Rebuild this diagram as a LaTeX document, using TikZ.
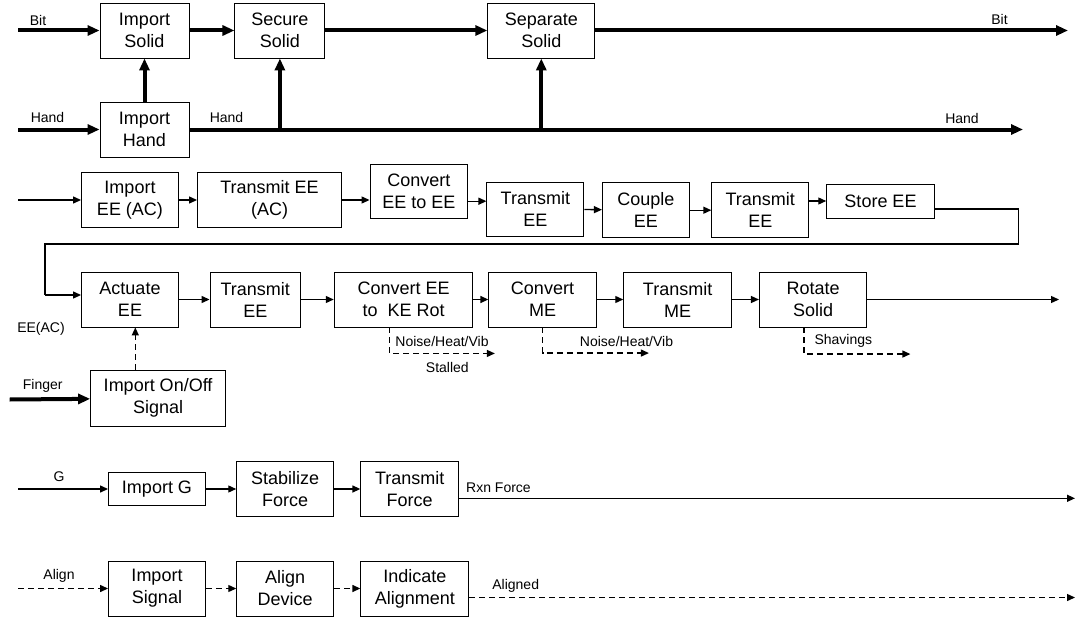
\documentclass[tikz,border=0pt]{standalone}
\usepackage{fontspec}
\setmainfont{Liberation Sans}
\usetikzlibrary{arrows.meta,positioning}

\begin{document}
\begin{tikzpicture}[x=1pt, y=-1pt,
  box/.style={draw, line width=0.9pt, align=center, font=\fontsize{18}{22}\selectfont, inner sep=2pt, minimum height=55pt},
  flow/.style={line width=1.3pt, -{Triangle[length=8pt,width=7pt]}},
  heavy/.style={line width=4pt, -{Triangle[length=12pt,width=10pt]}},
  sig/.style={flow, dash pattern=on 6pt off 4pt},
  lbl/.style={font=\fontsize{14}{16}\selectfont, inner sep=0pt}]
  \useasboundingbox (0,0) rectangle (1076,618);

  % bit and hand
  \node[box, minimum width=89pt] (isol) at (144.5,30.5) {Import\\Solid};
  \node[box, minimum width=90pt, right=45pt of isol] (ssol) {Secure\\Solid};
  \node[box, minimum width=107pt, right=162pt of ssol] (sep) {Separate\\Solid};
  \node[box, minimum width=89pt] (ihand) at (144.5,129.5) {Import\\Hand};
  \coordinate (bitin) at (18,30.5);
  \coordinate (bitout) at (1068,30.5);
  \coordinate (handin) at (18,129.5);
  \coordinate (handout) at (1023,129.5);

  \draw[heavy] (bitin) -- (isol);
  \draw[heavy] (isol) -- (ssol);
  \draw[heavy] (ssol) -- (sep);
  \draw[heavy] (sep) -- (bitout);
  \draw[heavy] (handin) -- (ihand);
  \draw[heavy] (ihand) -- (isol);
  \draw[heavy] (ihand) -- (handout);
  \draw[heavy] (ssol.south |- ihand) -- (ssol);
  \draw[heavy] (sep.south |- ihand) -- (sep);

  \node[lbl] (lbit1) at (38,20) {Bit};
  \node[lbl] (lbit2) at (999.5,19.5) {Bit};
  \node[lbl] (lhand1) at (47.5,117.5) {Hand};
  \node[lbl] (lhand2) at (226.5,117.5) {Hand};
  \node[lbl] (lhand3) at (962,118) {Hand};

  % electrical energy
  \node[box, minimum width=97pt] (iee) at (130,200) {Import\\EE (AC)};
  \node[box, minimum width=144pt] (taee) at (269.5,200) {Transmit EE\\(AC)};
  \node[box, minimum width=97.6pt, minimum height=54pt] (cee) at (418.8,191.2) {Convert\\EE to EE};
  \node[box, minimum width=97pt, minimum height=54pt] (tee1) at (535.4,209) {Transmit\\EE};
  \node[box, minimum width=87pt] (cpl) at (645.9,210.2) {Couple\\EE};
  \node[box, minimum width=97pt] (tee2) at (760.3,210.2) {Transmit\\EE};
  \node[box, minimum width=107.6pt, minimum height=34pt] (stee) at (880.5,201) {Store EE};
  \coordinate (eein) at (18,200);

  \draw[flow] (eein) -- (iee);
  \draw[flow] (iee) -- (taee);
  \draw[flow] (taee) -- (taee -| cee.west);
  \draw[flow] ([yshift=-10pt]cee.east) -- ([yshift=-10pt]cee.east -| tee1.west);
  \draw[flow] (tee1) -- (cpl);
  \draw[flow] (cpl) -- (tee2);
  \draw[flow] (tee2.east |- stee) -- (stee);

  \node[box, minimum width=97pt] (act) at (130,299.5) {Actuate\\EE};
  \node[box, minimum width=90.6pt, right=30.6pt of act] (tee3) {Transmit\\EE};
  \node[box, minimum width=138.7pt, right=32.7pt of tee3] (cke) {Convert EE\\to~\ KE Rot};
  \node[box, minimum width=107.4pt, right=15pt of cke] (cme) {Convert\\ME};
  \node[box, minimum width=107.8pt, right=26.6pt of cme] (tme) {Transmit\\ME};
  \node[box, minimum width=107.4pt, right=27pt of tme] (rot) {Rotate\\Solid};
  \node[box, minimum width=135pt, minimum height=56.7pt] (onoff) at (158.1,398.3) {Import On/Off\\Signal};
  \coordinate (rotout) at (1059,299.5);
  \coordinate (fingerin) at (9.6,399.5);

  \draw[line width=1.3pt] ([yshift=-8pt]stee.east) -- ++(83.7,0) -- ++(0,35) -| ([xshift=-36pt,yshift=4.5pt]act.west);
  \draw[flow] ([xshift=-36.5pt,yshift=4.5pt]act.west) -- ([yshift=4.5pt]act.west);
  \draw[flow] (act) -- (tee3);
  \draw[flow] (tee3) -- (cke);
  \draw[flow] (cke) -- (cme);
  \draw[flow] (cme) -- (tme);
  \draw[flow] (tme) -- (rot);
  \draw[flow] (rot) -- (rotout);
  \draw[heavy] (fingerin) -- (onoff);
  \draw[sig] ([xshift=5.3pt]act.south |- onoff.north) -- ([xshift=5.3pt]act.south);

  % losses
  \draw[sig] ([xshift=-14.3pt]cke.south) -- ++(0,26) -- ++(105.6,0)
    node[lbl, pos=0.5, above=6pt] (lnoise1) {Noise/Heat/Vib}
    node[lbl, pos=0.55, below=8pt] (lstall) {Stalled};
  \draw[sig] (cme.south) -- ++(0,25.6) -- ++(106.4,0)
    node[lbl, pos=0.79, above=6pt] (lnoise2) {Noise/Heat/Vib};
  \draw[sig] ([xshift=-9.1pt]rot.south) -- ++(0,26.6) -- ++(106.4,0)
    node[lbl, pos=0.37, above=6pt] (lshav) {Shavings};

  \node[lbl] (leeac) at (41,329) {EE(AC)};
  \node[lbl] (lfinger) at (42.7,386) {Finger};

  % gravity
  \node[box, minimum width=97pt, minimum height=33.3pt] (ig) at (157,489) {Import G};
  \node[box, minimum width=97pt, right=30.3pt of ig] (stab) {Stabilize\\Force};
  \node[box, minimum width=97.8pt, right=26.2pt of stab] (tf) {Transmit\\Force};
  \coordinate (gin) at (18,489);
  \coordinate (rxnout) at (1075,498.3);

  \draw[flow] (gin) -- (ig);
  \draw[flow] (ig) -- (stab);
  \draw[flow] (stab) -- (tf);
  \draw[flow] ([yshift=-9.3pt]tf.east) -- (rxnout);
  \node[lbl] (lg) at (59,477) {G};
  \node[lbl] (lrxn) at (498.5,487.3) {Rxn Force};

  % alignment signal
  \node[box, minimum width=97pt] (isig) at (157,588.5) {Import\\Signal};
  \node[box, minimum width=97pt, right=30.3pt of isig] (adev) {Align\\Device};
  \node[box, minimum width=108.1pt, right=26.2pt of adev] (ind) {Indicate\\Alignment};
  \coordinate (alignin) at (18,588.5);
  \coordinate (alignout) at (1075,597.5);

  \draw[sig] (alignin) -- (isig);
  \draw[sig] (isig) -- (adev);
  \draw[sig] (adev) -- (ind);
  \draw[sig] ([yshift=-9pt]ind.east) -- (alignout);
  \node[lbl] (lalign) at (59,576) {Align};
  \node[lbl] (laligned) at (515.7,585.7) {Aligned};
\end{tikzpicture}
\end{document}
